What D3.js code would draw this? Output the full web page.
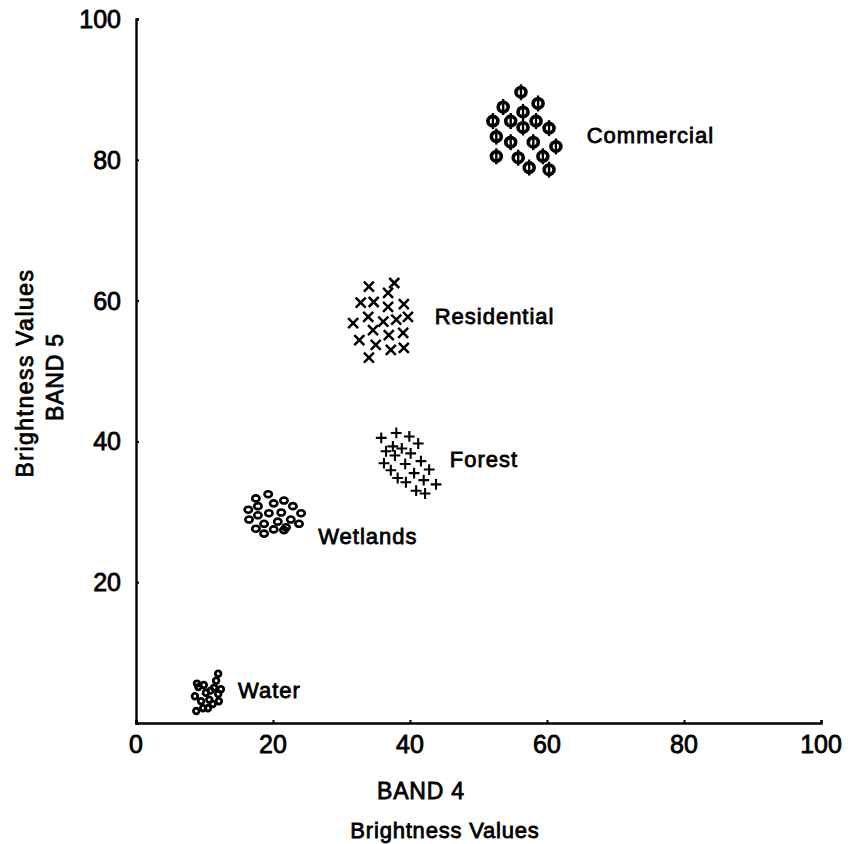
<!DOCTYPE html>
<html lang="en">
  <head>
    <meta charset="utf-8">
    <title>Band 4 / Band 5 brightness values</title>
    <script src="https://d3js.org/d3.v7.min.js"></script>
    <style media="screen">
      body{
        margin: 0;
        background: #fff;
      }
      text{
        font-family: 'Liberation Sans', Arial, sans-serif;
        fill: #000;
        stroke: #000;
        stroke-width: 0.8px;
      }
    </style>
  </head>
  <body>
    <script type="text/javascript">

      // band 4 / band 5 brightness values
      let commercialX = [56.2,53.6,58.7,52.1,56.5,54.7,58.4,52.6,56.5,60.3,54.7,58.0,61.3,52.6,55.8,59.4,57.4,60.3];
      let commercialY = [89.6,87.5,88.0,85.5,86.8,85.5,85.5,83.3,84.6,84.5,82.5,82.5,81.9,80.5,80.3,80.5,78.9,78.6];

      let residentialX = [34.0,37.7,36.8,32.8,34.7,36.8,39.1,33.9,36.1,38.0,39.7,31.7,34.6,36.9,39.0,32.6,35.0,37.2,39.1,34.0];
      let residentialY = [62.0,62.5,61.1,59.7,59.8,59.1,59.5,57.7,57.0,57.3,57.7,56.8,55.8,55.1,55.4,54.4,53.7,53.0,53.3,51.9];

      let forestX = [35.8,38.0,39.9,41.2,37.5,38.8,36.5,37.8,40.1,36.2,39.3,41.6,37.2,40.6,42.8,38.2,39.4,42.0,43.8,40.9,42.2];
      let forestY = [40.5,41.2,40.7,39.7,39.3,39.0,38.6,38.0,38.3,36.9,36.8,37.2,35.9,35.5,36.0,34.8,34.2,34.5,33.9,33.0,32.6];

      let wetlandsX = [19.3,17.5,20.1,21.6,22.9,17.8,16.4,19.4,21.2,24.1,17.8,22.6,16.5,20.7,23.8,18.7,17.5,21.9,20.1,18.7,21.6];
      let wetlandsY = [32.5,31.9,31.2,31.6,30.8,30.8,30.3,29.8,29.9,29.8,29.5,28.9,28.9,28.6,28.3,28.3,27.6,27.8,27.5,26.9,27.4];

      let waterX = [8.8,8.6,9.1,9.9,10.2,10.7,11.2,11.7,12.0,11.4,12.0,12.1,9.5,9.8,10.5,8.9,10.9,12.4];
      let waterY = [1.7,3.8,5.1,5.4,4.3,3.3,2.7,6.0,7.0,5.0,4.1,3.1,3.1,2.1,2.1,5.6,4.6,4.8];

      let classNames = ['Commercial','Residential','Forest','Wetlands','Water'];
      let labelX = [65.8,43.6,45.8,26.6,14.9];
      let labelY = [83.5,57.8,37.5,26.6,4.7];

      let tickValues = [0,20,40,60,80,100];

      let width = 848, height = 844;

      let svg = d3.select("body").append("svg")
                  .attr("width", width)
                  .attr("height", height);

      let x = d3.scaleLinear().domain([0,100]).range([136,821]);
      let y = d3.scaleLinear().domain([0,100]).range([723,19]);

      // axes: plain lines with small inward ticks
      let xAxis = svg.append("g")
                     .attr("transform", "translate(0," + y(0) + ")")
                     .call(d3.axisTop(x).tickValues(tickValues).tickSize(3).tickFormat(""));
      let yAxis = svg.append("g")
                     .attr("transform", "translate(" + x(0) + ",0)")
                     .call(d3.axisRight(y).tickValues(tickValues).tickSize(3).tickFormat(""));

      [xAxis, yAxis].forEach(function(a){
        a.select(".domain").attr("stroke", "#000").attr("stroke-width", 2.4);
        a.selectAll(".tick line").attr("stroke", "#000").attr("stroke-width", 2);
      });

      // tick labels
      svg.append("g").selectAll("text")
         .data(tickValues)
         .enter().append("text")
         .attr("x", function(d){ return x(d); })
         .attr("y", y(0) + 30)
         .attr("text-anchor", "middle")
         .attr("font-size", 25)
         .text(function(d){ return d; });

      svg.append("g").selectAll("text")
         .data(tickValues.filter(function(d){ return d > 0; }))
         .enter().append("text")
         .attr("x", 121)
         .attr("y", function(d){ return y(d); })
         .attr("dy", "0.36em")
         .attr("text-anchor", "end")
         .attr("font-size", 25)
         .text(function(d){ return d; });

      // axis titles
      svg.append("text")
         .attr("x", 421).attr("y", 799)
         .attr("text-anchor", "middle")
         .attr("font-size", 23)
         .attr("letter-spacing", 0.8)
         .text("BAND 4");
      svg.append("text")
         .attr("x", 445).attr("y", 838)
         .attr("text-anchor", "middle")
         .attr("font-size", 22)
         .attr("letter-spacing", 0.8)
         .text("Brightness Values");

      svg.append("text")
         .attr("transform", "translate(33,373) rotate(-90)")
         .attr("text-anchor", "middle")
         .attr("font-size", 23)
         .attr("letter-spacing", 1.5)
         .text("Brightness  Values");
      svg.append("text")
         .attr("transform", "translate(63,377) rotate(-90)")
         .attr("text-anchor", "middle")
         .attr("font-size", 23)
         .attr("letter-spacing", 0.8)
         .text("BAND 5");

      function pts(xs, ys){
        return xs.map(function(v, i){ return [v, ys[i]]; });
      }

      let marks = svg.append("g").attr("fill", "none").attr("stroke", "#000");

      // commercial: phi symbols
      let phi = marks.selectAll(".phi")
                     .data(pts(commercialX, commercialY))
                     .enter().append("g")
                     .attr("transform", function(d){ return "translate(" + x(d[0]) + "," + y(d[1]) + ")"; });
      phi.append("ellipse").attr("rx", 5).attr("ry", 4.7).attr("stroke-width", 3.6);
      phi.append("line").attr("y1", -8).attr("y2", 8).attr("stroke-width", 2.4);

      // residential: crosses
      marks.selectAll(".res")
           .data(pts(residentialX, residentialY))
           .enter().append("path")
           .attr("stroke-width", 2.5)
           .attr("d", function(d){
             let cx = x(d[0]), cy = y(d[1]), s = 5;
             return "M" + (cx-s) + "," + (cy-s) + "L" + (cx+s) + "," + (cy+s) +
                    "M" + (cx-s) + "," + (cy+s) + "L" + (cx+s) + "," + (cy-s);
           });

      // forest: plus signs
      marks.selectAll(".forest")
           .data(pts(forestX, forestY))
           .enter().append("path")
           .attr("stroke-width", 2.1)
           .attr("d", function(d){
             let cx = x(d[0]), cy = y(d[1]), s = 5.4;
             return "M" + (cx-s) + "," + cy + "L" + (cx+s) + "," + cy +
                    "M" + cx + "," + (cy-s) + "L" + cx + "," + (cy+s);
           });

      // wetlands: small rings
      marks.selectAll(".wet")
           .data(pts(wetlandsX, wetlandsY))
           .enter().append("ellipse")
           .attr("cx", function(d){ return x(d[0]); })
           .attr("cy", function(d){ return y(d[1]); })
           .attr("rx", 3.7).attr("ry", 3)
           .attr("stroke-width", 2.6);

      // water: tiny packed rings
      marks.selectAll(".water")
           .data(pts(waterX, waterY))
           .enter().append("circle")
           .attr("cx", function(d){ return x(d[0]); })
           .attr("cy", function(d){ return y(d[1]); })
           .attr("r", 2.8)
           .attr("stroke-width", 2.8);

      // class labels
      svg.append("g").selectAll("text")
         .data(classNames)
         .enter().append("text")
         .attr("x", function(d, i){ return x(labelX[i]); })
         .attr("y", function(d, i){ return y(labelY[i]); })
         .attr("dy", "0.36em")
         .attr("font-size", 22)
         .attr("letter-spacing", 1)
         .text(function(d){ return d; });

    </script>
  </body>
</html>
